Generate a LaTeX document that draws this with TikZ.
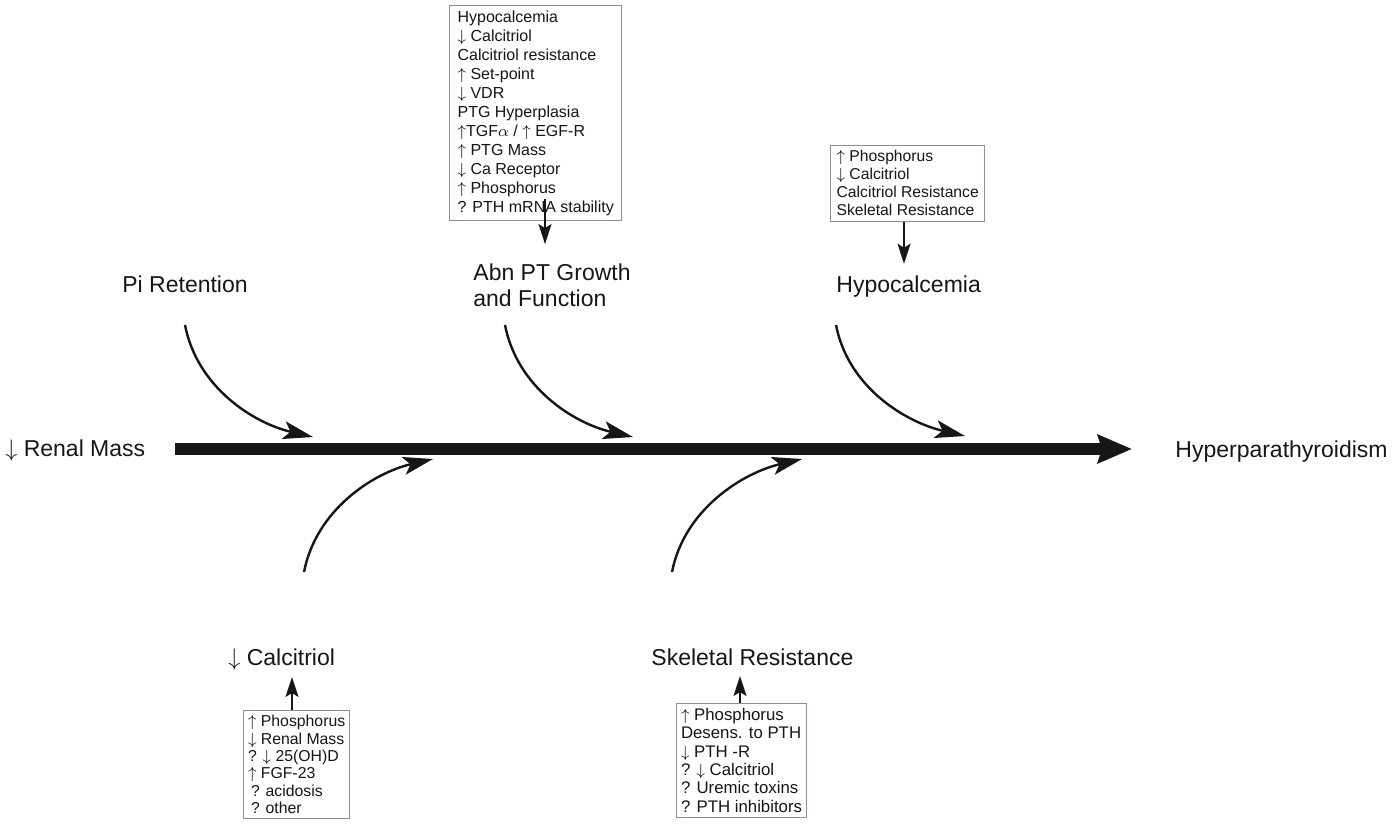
\documentclass[tikz,border=0pt]{standalone}
\usepackage{fontspec}
\setmainfont{Liberation Sans}
\usetikzlibrary{arrows.meta}
\definecolor{ink}{HTML}{161616}
\definecolor{boxline}{HTML}{8492A2}
\newcommand{\up}{$\uparrow$}
\newcommand{\dn}{$\downarrow$}
\begin{document}
\begin{tikzpicture}[x=0.5pt,y=-0.5pt,
  lbl/.style={font=\fontsize{11.5}{13}\selectfont, text=ink, inner sep=0pt, anchor=base west},
  infobox/.style={draw=boxline, line width=0.6pt, text=ink, align=left, anchor=north west},
  curvarrow/.style={line width=1.2pt, draw=ink, -{Stealth[length=15pt,width=9pt,inset=3.5pt]}},
  vertarrow/.style={line width=1pt, draw=ink, -{Stealth[length=10pt,width=6.5pt,inset=2pt]}},
  mainarrow/.style={line width=6pt, draw=ink, -{Stealth[length=17pt,width=14pt,inset=2pt]}}]
\useasboundingbox[fill=white] (0,0) rectangle (1400,824);

% labels
\node[lbl] (renal) at (5,456) {\dn\ Renal Mass};
\node[lbl] (hyper) at (1175,457) {Hyperparathyroidism};
\node[lbl] (pi) at (122,292) {Pi Retention};
\node[lbl, anchor=west, align=left, font=\fontsize{11.5}{13}\selectfont] (abn) at (473,285) {Abn PT Growth\\and Function};
\node[lbl] (hypo) at (836,292) {Hypocalcemia};
\node[lbl] (calc) at (228,665) {\dn\ Calcitriol};
\node[lbl] (skel) at (651,665) {Skeletal Resistance};

% boxes
\node[infobox, inner xsep=4pt, inner ysep=2.5pt, font=\fontsize{8}{9.5}\selectfont] (box1) at (449,5)
 {Hypocalcemia\\
  \dn\ Calcitriol\\
  Calcitriol resistance\\
  \up\ Set-point\\
  \dn\ VDR\\
  PTG Hyperplasia\\
  \up TGF$\alpha$ / \up\ EGF-R\\
  \up\ PTG Mass\\
  \dn\ Ca Receptor\\
  \up\ Phosphorus\\
  ? PTH mRNA stability};
\node[infobox, inner xsep=3pt, inner ysep=2.5pt, font=\fontsize{7.85}{9}\selectfont] (box2) at (830,145)
 {\up\ Phosphorus\\
  \dn\ Calcitriol\\
  Calcitriol Resistance\\
  Skeletal Resistance};
\node[infobox, inner xsep=2.2pt, inner ysep=2.3pt, font=\fontsize{7.9}{8.7}\selectfont] (box3) at (243,710)
 {\up\ Phosphorus\\
  \dn\ Renal Mass\\
  ? \dn\ 25(OH)D\\
  \up\ FGF-23\\
  \hspace*{1.5pt}? acidosis\\
  \hspace*{1.5pt}? other};
\node[infobox, inner xsep=2.2pt, inner ysep=2.3pt, font=\fontsize{8.4}{9.2}\selectfont] (box4) at (676,703)
 {\up\ Phosphorus\\
  Desens. to PTH\\
  \dn\ PTH -R\\
  ? \dn\ Calcitriol\\
  ? Uremic toxins\\
  ? PTH inhibitors};

% main arrow
\coordinate (ms) at (175,449);
\coordinate (me) at (1132,449);
\draw[mainarrow] (ms) -- (me);

% curved arrows
\coordinate (a1s) at (185,325); \coordinate (a1e) at (313,437);
\coordinate (a2s) at (505,325); \coordinate (a2e) at (633,437);
\coordinate (a3s) at (836,325); \coordinate (a3e) at (965,436);
\coordinate (b1s) at (304,572); \coordinate (b1e) at (433,459);
\coordinate (b2s) at (672,572); \coordinate (b2e) at (802,459);
\draw[curvarrow] (a1s) .. controls +(12,62) and +(-60,-14) .. (a1e);
\draw[curvarrow] (a2s) .. controls +(12,62) and +(-60,-14) .. (a2e);
\draw[curvarrow] (a3s) .. controls +(12,62) and +(-60,-14) .. (a3e);
\draw[curvarrow] (b1s) .. controls +(12,-62) and +(-60,14) .. (b1e);
\draw[curvarrow] (b2s) .. controls +(12,-62) and +(-60,14) .. (b2e);

% vertical arrows
\draw[vertarrow] (box1.south -| 545,0) ++(0,-22) -- ++(0,45);
\draw[vertarrow] (box2.south -| 904,0) -- ++(0,42);
\draw[vertarrow] (box3.north -| 292,0) -- ++(0,-33);
\draw[vertarrow] (box4.north -| 740,0) -- ++(0,-27);
\end{tikzpicture}
\end{document}
